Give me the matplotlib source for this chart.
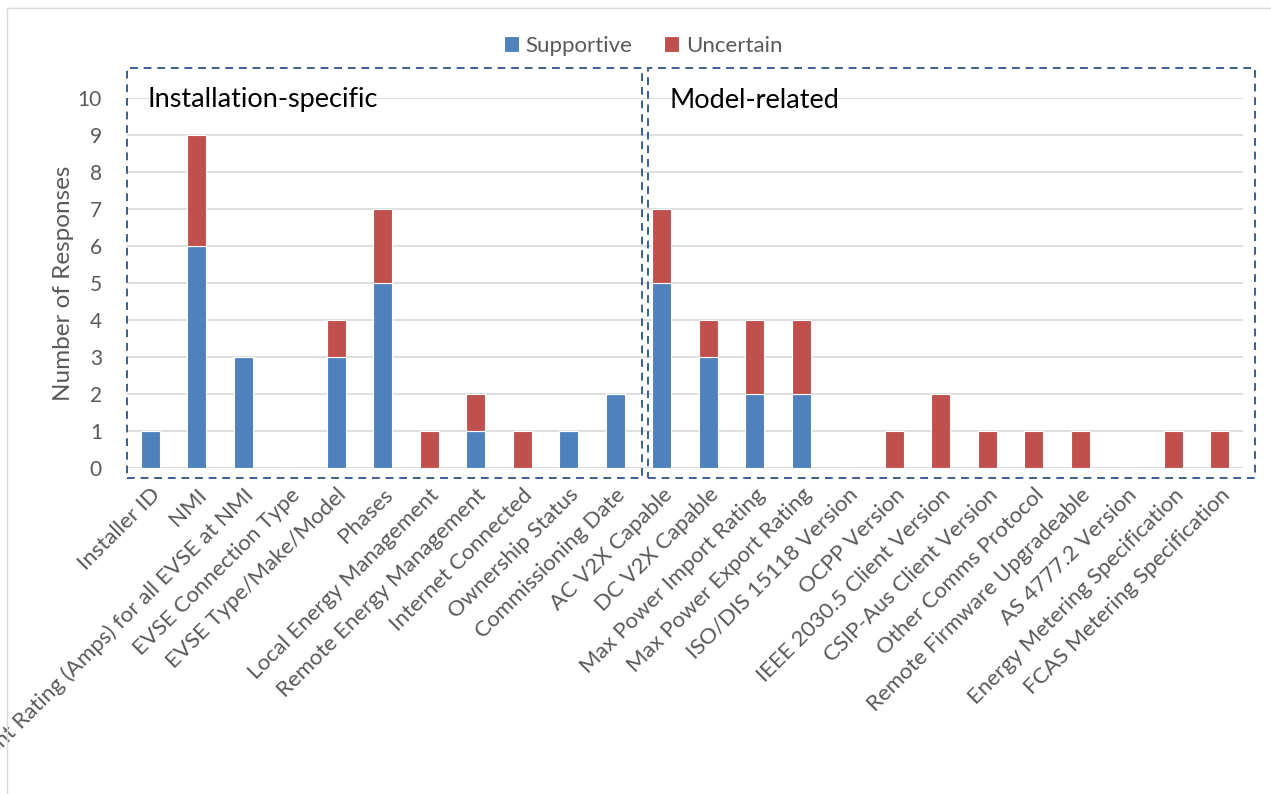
import matplotlib.pyplot as plt
from matplotlib.patches import Rectangle
from matplotlib.lines import Line2D
import numpy as np

categories = [
    "Installer ID", "NMI", "Max Current Rating (Amps) for all EVSE at NMI",
    "EVSE Connection Type", "EVSE Type/Make/Model", "Phases",
    "Local Energy Management", "Remote Energy Management",
    "Internet Connected", "Ownership Status", "Commissioning Date",
    "AC V2X Capable", "DC V2X Capable", "Max Power Import Rating",
    "Max Power Export Rating", "ISO/DIS 15118 Version", "OCPP Version",
    "IEEE 2030.5 Client Version", "CSIP-Aus Client Version",
    "Other Comms Protocol", "Remote Firmware Upgradeable",
    "AS 4777.2 Version", "Energy Metering Specification",
    "FCAS Metering Specification",
]
supportive = [1, 6, 3, 0, 3, 5, 0, 1, 0, 1, 2, 5, 3, 2, 2, 0, 0, 0, 0, 0, 0, 0, 0, 0]
uncertain = [0, 3, 0, 0, 1, 2, 1, 1, 1, 0, 0, 2, 1, 2, 2, 0, 1, 2, 1, 1, 1, 0, 1, 1]
y_ticks = list(range(0, 11))

plt.rcParams["font.family"] = ["Lato", "DejaVu Sans"]
text_col = "#595959"
blue = "#4F81BD"
red = "#C0504D"
box_col = "#3A5F8F"

fig = plt.figure(figsize=(12.71, 7.94), dpi=100)
ax = fig.add_axes([127 / 1271, 1 - 468 / 794, (1243 - 127) / 1271, (468 - 98) / 794])

x = np.arange(len(categories))
ax.bar(x, supportive, width=0.4, color=blue, edgecolor="white", linewidth=0.8,
       label="Supportive", zorder=3)
ax.bar(x, uncertain, width=0.4, bottom=supportive, color=red, edgecolor="white",
       linewidth=0.8, label="Uncertain", zorder=3)

ax.set_xlim(-0.5, len(categories) - 0.5)
ax.set_ylim(0, 10)
ax.set_yticks(y_ticks)
ax.yaxis.grid(True, color="#D9D9D9", linewidth=1.2, zorder=0)
ax.set_axisbelow(True)
for s in ax.spines.values():
    s.set_visible(False)
ax.axhline(0, color="#D9D9D9", linewidth=1.2, zorder=1)

ax.set_xticks(x)
ax.set_xticklabels(categories, rotation=45, ha="right", rotation_mode="anchor",
                   fontsize=16, color=text_col)
ax.tick_params(axis="x", length=0, pad=12)
ax.tick_params(axis="y", length=0, pad=18, labelsize=15, labelcolor=text_col)
ax.set_ylabel("Number of Responses", fontsize=17.5, color=text_col, labelpad=3)

# dashed group boxes (figure pixel coordinates)
W, H = 1271, 794
def fig_box(x0, y0, x1, y1):
    r = Rectangle((x0 / W, 1 - y1 / H), (x1 - x0) / W, (y1 - y0) / H,
                  transform=fig.transFigure, fill=False, edgecolor=box_col,
                  linewidth=1.4, linestyle=(0, (4, 3)), zorder=5)
    fig.add_artist(r)

fig_box(127, 68, 642, 478)
fig_box(648, 68, 1255, 478)

fig.text(148 / W, 1 - 100 / H, "Installation-specific", fontsize=19.5, color="black", va="center")
fig.text(669 / W, 1 - 100 / H, "Model-related", fontsize=19.5, color="black", va="center")

# outer chart border
fig.add_artist(Line2D([7 / W, 1], [1 - 8 / H, 1 - 8 / H], transform=fig.transFigure,
                      color="#D9D9D9", linewidth=1))
fig.add_artist(Line2D([7 / W, 7 / W], [0, 1 - 8 / H], transform=fig.transFigure,
                      color="#D9D9D9", linewidth=1))

fig.legend(loc="center", bbox_to_anchor=(643 / W, 1 - 46 / H), ncol=2, frameon=False,
           fontsize=16, labelcolor=text_col, handlelength=0.7, handleheight=0.7,
           handletextpad=0.3, columnspacing=1.4)

fig.savefig("out.png", dpi=100)
